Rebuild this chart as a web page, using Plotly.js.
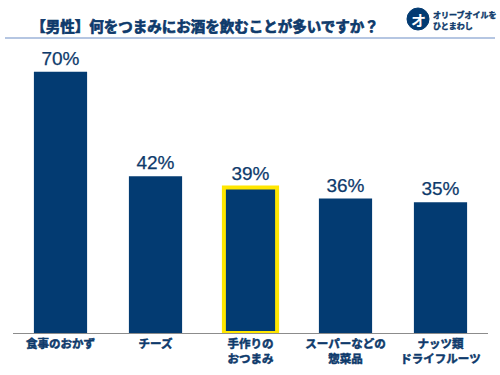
<!DOCTYPE html>
<html>
<head>
<meta charset="utf-8">
<script src="https://cdn.plot.ly/plotly-3.0.1.min.js"></script>
<style>
html,body{margin:0;padding:0;background:#fff}
#chart{width:500px;height:375px}
#chart .gtitle{stroke:#0E3A6B;stroke-width:0.7px;}
#chart .xtick text{stroke:#0E3A6B;stroke-width:0.5px;}
#chart .bartext{stroke:#0E3A6B;stroke-width:0.25px;}
#chart .annotation-text.logo{stroke:#0E3A6B;stroke-width:0.4px;}
</style>
</head>
<body>
<div id="chart"></div>
<script>
const categories = ['食事のおかず', 'チーズ', '手作りの<br>おつまみ', 'スーパーなどの<br>惣菜品', 'ナッツ類<br>ドライフルーツ'];
const values = [70, 42, 39, 36, 35];
const valueLabels = ['70%', '42%', '39%', '36%', '35%'];
const highlight = [false, false, true, false, false];

const NAVY = '#033B72';
const TEXT = '#0E3A6B';
const JP = '"Noto Sans CJK JP", "Noto Sans", sans-serif';

const L = 13, R = 12, T = 45, B = 42;
const W = 500, H = 375;
const pw = W - L - R, ph = H - T - B;
const px = x => (x - L) / pw;
const py = y => (H - B - y) / ph;

const trace = {
  type: 'bar',
  x: categories,
  y: values,
  text: valueLabels,
  textposition: 'outside',
  textfont: {family: '"Liberation Sans", Arial, sans-serif', size: 19, color: TEXT},
  cliponaxis: false,
  marker: {
    color: NAVY,
    line: {
      color: highlight.map(h => h ? '#FFE600' : NAVY),
      width: highlight.map(h => h ? 4 : 0)
    }
  },
  hoverinfo: 'none'
};

const layout = {
  width: W, height: H,
  margin: {l: L, r: R, t: T, b: B, pad: 0},
  paper_bgcolor: '#fff', plot_bgcolor: '#fff',
  showlegend: false,
  bargap: 0.44,
  title: {
    text: '【男性】何をつまみにお酒を飲むことが多いですか？',
    font: {family: JP, size: 14.5, color: TEXT, weight: 'bold'},
    xref: 'container', yref: 'container',
    x: 0.41, xanchor: 'center', y: 1 - 27 / H, yanchor: 'middle'
  },
  xaxis: {
    showline: true, linecolor: '#8C8C8C', linewidth: 1,
    ticks: '', showgrid: false, zeroline: false,
    tickfont: {family: JP, size: 11.5, color: TEXT, weight: 'bold'},
    fixedrange: true
  },
  yaxis: {
    range: [0, ph / 3.733],
    visible: false, showgrid: false, zeroline: false, fixedrange: true
  },
  shapes: [
    {type: 'line', xref: 'paper', yref: 'paper', x0: px(5), x1: px(495), y0: py(38), y1: py(38),
     line: {color: '#9DB3D8', width: 1.5}},
    {type: 'circle', xref: 'paper', yref: 'paper', x0: px(407), x1: px(429), y0: py(30), y1: py(8),
     fillcolor: NAVY, line: {color: NAVY, width: 1}}
  ],
  annotations: [
    {xref: 'paper', yref: 'paper', x: px(418), y: py(19), text: 'オ', showarrow: false,
     xanchor: 'center', yanchor: 'middle', font: {family: JP, size: 15, color: '#fff', weight: 'bold'}},
    {xref: 'paper', yref: 'paper', x: px(431), y: py(14), text: 'オリーブオイルを', showarrow: false,
     xanchor: 'left', yanchor: 'middle', font: {family: JP, size: 8, color: TEXT, weight: 'bold'}},
    {xref: 'paper', yref: 'paper', x: px(431), y: py(25), text: 'ひとまわし', showarrow: false,
     xanchor: 'left', yanchor: 'middle', font: {family: JP, size: 8, color: TEXT, weight: 'bold'}}
  ]
};

Plotly.newPlot('chart', [trace], layout, {displayModeBar: false, staticPlot: true}).then(() => {
  document.querySelectorAll('#chart .annotation-text').forEach((t, i) => {
    if (i > 0) t.classList.add('logo');
  });
});
</script>
</body>
</html>
